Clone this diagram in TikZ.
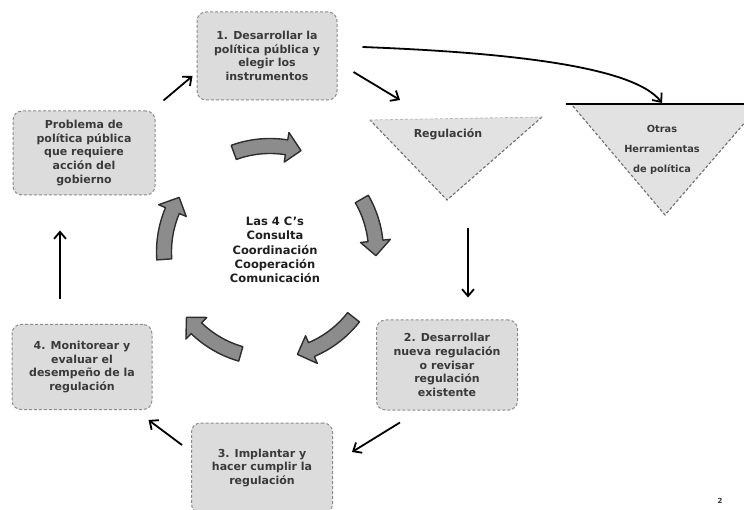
\documentclass[tikz,border=0pt]{standalone}
\usepackage{fontspec}
\setmainfont{DejaVu Sans}
\usetikzlibrary{arrows.meta}
\definecolor{boxfill}{HTML}{DCDCDC}
\definecolor{trifill}{HTML}{E2E2E2}
\definecolor{boxedge}{HTML}{8A8A8A}
\definecolor{boxtext}{HTML}{3A3A3A}
\definecolor{fatfill}{HTML}{8C8C8C}
\definecolor{fatedge}{HTML}{2E2E2E}
\newcommand\fatcurve[2]{%
  \pgfmathsetmacro\fch{#2-8}%
  \draw[blockarrow] plot[domain=#1:\fch,samples=24] ({270+113.5*cos(\x)},{252+113.5*sin(\x)})
   -- ({270+121*cos(\fch)},{252+121*sin(\fch)})
   -- ({270+106*cos(#2)},{252+106*sin(#2)})
   -- ({270+91*cos(\fch)},{252+91*sin(\fch)})
   -- plot[domain=\fch:#1,samples=24] ({270+98.5*cos(\x)},{252+98.5*sin(\x)})
   -- cycle;}
\begin{document}
\begin{tikzpicture}[x=1pt,y=-1pt,
  box/.style={draw=boxedge, fill=boxfill, rounded corners=9pt, line width=1pt,
    dash pattern=on 3pt off 2pt, align=center, text=boxtext,
    font=\bfseries\fontsize{11}{13.8}\selectfont, inner sep=2pt},
  conn/.style={draw=black, line width=1.8pt, -{Straight Barb[length=7pt,width=12pt]}},
  blockarrow/.style={draw=fatedge, fill=fatfill, line width=1.4pt, line join=round},
  tri/.style={fill=trifill},
  triside/.style={draw=boxedge!80!black, line width=1.1pt, dash pattern=on 3pt off 2pt},
  tritext/.style={text=boxtext, align=center, font=\bfseries\fontsize{11}{14}\selectfont}]
\useasboundingbox (0,0) rectangle (744,510);
\clip (0,0) rectangle (744,510);

% triangles
\fill[tri] (370,120) -- (542,117) -- (447,200) -- cycle;
\draw[triside] (542,117) -- (447,200) -- (370,120);
\draw[draw=boxedge!60, line width=0.8pt, dash pattern=on 3pt off 2pt] (370,120) -- (542,117);
\node[tritext] (reg) at (448,134) {Regulación};

\fill[tri] (572,105) -- (760,105) -- (665,215) -- cycle;
\draw[triside] (760,105) -- (665,215) -- (572,105);
\coordinate (otl) at (566,104);
\coordinate (otr) at (744,104);
\draw[line width=1.2pt] (otl) -- (otr);
\coordinate (otop) at (662,103);
\node[tritext, font=\bfseries\fontsize{9.8}{20}\selectfont] (otras) at (662,150) {Otras\\Herramientas\\de política};

% boxes
\node[box, minimum width=140pt, minimum height=88pt] (box1) at (267,56)
  {1. Desarrollar la\\política pública y\\elegir los\\instrumentos};
\node[box, minimum width=142pt, minimum height=84pt] (prob) at (84,153)
  {Problema de\\política pública\\que requiere\\acción del\\gobierno};
\node[box, minimum width=140pt, minimum height=85pt] (box4) at (82,367)
  {4. Monitorear y\\evaluar el\\desempeño de la\\regulación};
\node[box, minimum width=141pt, minimum height=90pt] (box2) at (447,365)
  {2. Desarrollar\\nueva regulación\\o revisar\\regulación\\existente};
\node[box, minimum width=141pt, minimum height=90pt] (box3) at (262,468)
  {3. Implantar y\\hacer cumplir la\\regulación};

% centre text
\node[align=center, text=black!88, font=\bfseries\fontsize{11.5}{14.3}\selectfont] (cs) at (275,250)
  {Las 4 C\char"0027 s\\Consulta\\Coordinación\\Cooperación\\Comunicación};

% block arrows
\fatcurve{250}{287}
\fatcurve{330}{362}
\fatcurve{38}{75}
\fatcurve{106}{142}
\fatcurve{176}{211}

% connectors
\draw[conn] ([shift={(8,-10)}]prob.north east) -- ([shift={(-4,20)}]box1.west);
\draw[conn] ([shift={(16,16)}]box1.east) -- ([shift={(-48,-34)}]reg.center);
\draw[conn] ([shift={(25,-9)}]box1.east) .. controls (520,53) and (635,68) .. (otop);
\coordinate (regS) at (468,228);
\draw[conn] (regS) -- ([shift={(21,-22)}]box2.north);
\draw[conn] ([shift={(-47,12)}]box2.south) -- ([shift={(19,-16)}]box3.east);
\draw[conn] ([shift={(-9,-23)}]box3.west) -- ([shift={(-4,10)}]box4.south east);
\draw[conn] ([shift={(-22,-25)}]box4.north) -- ([shift={(-24,35)}]prob.south);

% page number
\node[font=\bfseries\fontsize{7}{8}\selectfont, text=black!80] (pg) at (720,501) {2};
\end{tikzpicture}
\end{document}
